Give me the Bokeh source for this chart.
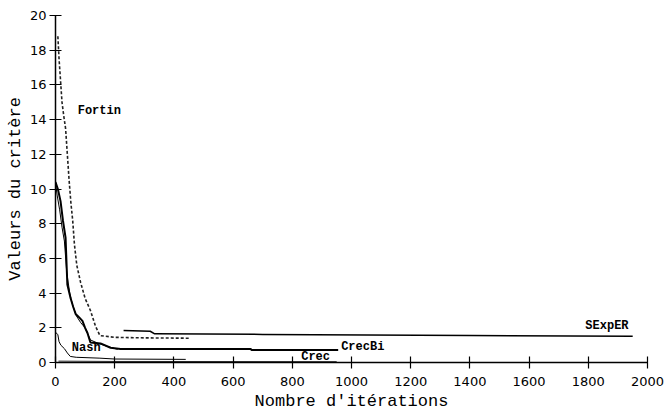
from bokeh.plotting import figure
from bokeh.models import Range1d, FixedTicker, Label
from bokeh.embed import file_html
from bokeh.resources import INLINE

# Data (iterations, criterion value)
fortin_x = [8, 12, 18, 22, 28, 34, 40, 46, 52, 58, 64, 72, 85, 100, 118, 135, 150, 200, 300, 450]
fortin_y = [18.8, 17.5, 16.0, 15.0, 14.2, 13.5, 12.0, 10.5, 9.2, 8.2, 6.8, 5.6, 4.6, 3.7, 3.0, 2.1, 1.55, 1.45, 1.42, 1.4]

crecbi_x = [0, 8, 17, 25, 34, 40, 51, 60, 68, 80, 91, 100, 108, 118, 135, 152, 186, 220, 660, 662, 955]
crecbi_y = [10.4, 10.0, 9.3, 8.2, 7.2, 4.5, 3.7, 3.2, 2.8, 2.6, 2.4, 2.0, 1.7, 1.15, 1.12, 1.1, 0.85, 0.78, 0.78, 0.72, 0.72]

crec_x = [0, 6, 14, 22, 30, 38, 48, 58, 70, 85, 100, 118, 145, 180, 210]
crec_y = [10.3, 9.6, 8.8, 7.8, 7.0, 5.2, 4.0, 3.3, 2.7, 2.3, 2.0, 1.3, 1.1, 0.9, 0.76]
crec_tail_x = [10, 200, 950]
crec_tail_y = [0.08, 0.06, 0.05]

nash_x = [0, 8, 12, 18, 30, 40, 50, 70, 150, 200, 440]
nash_y = [1.75, 1.6, 1.2, 1.0, 0.8, 0.55, 0.35, 0.3, 0.25, 0.2, 0.18]

sexper_x = [230, 320, 335, 700, 1400, 1950]
sexper_y = [1.84, 1.8, 1.65, 1.62, 1.55, 1.52]

x_ticks = list(range(0, 2001, 200))
y_ticks = list(range(0, 21, 2))

p = figure(width=670, height=415, output_backend="svg", toolbar_location=None,
           x_range=Range1d(0, 2000), y_range=Range1d(0, 20),
           min_border_left=55, min_border_right=23, min_border_top=15, min_border_bottom=53)
p.outline_line_color = None
p.xgrid.grid_line_color = None
p.ygrid.grid_line_color = None
p.background_fill_color = "white"

for ax in (p.xaxis[0], p.yaxis[0]):
    ax.major_tick_in = 6
    ax.major_tick_out = 6
    ax.minor_tick_line_color = None
    ax.axis_line_color = "black"
    ax.axis_line_width = 1.5
    ax.major_tick_line_color = "black"
    ax.major_tick_line_width = 1.2
    ax.major_label_text_font = "DejaVu Sans"
    ax.major_label_text_font_size = "13px"
    ax.major_label_text_color = "black"
    ax.axis_label_text_font = "Liberation Mono"
    ax.axis_label_text_font_style = "normal"
    ax.axis_label_text_color = "black"

p.xaxis.ticker = FixedTicker(ticks=x_ticks)
p.yaxis.ticker = FixedTicker(ticks=y_ticks)
p.xaxis.axis_label = "Nombre d'itérations"
p.yaxis.axis_label = "Valeurs du critère"
p.xaxis.axis_label_text_font_size = "17px"
p.yaxis.axis_label_text_font_size = "17px"
p.xaxis.major_label_standoff = 8
p.yaxis.major_label_standoff = 3
p.xaxis.axis_label_standoff = 3
p.yaxis.axis_label_standoff = 2

p.line(fortin_x, fortin_y, line_color="#222222", line_width=1.6, line_dash="3 2")
p.line(crecbi_x, crecbi_y, line_color="black", line_width=2)
p.line(crec_x, crec_y, line_color="black", line_width=1)
p.line(crec_tail_x, crec_tail_y, line_color="#333333", line_width=1)
p.line(nash_x, nash_y, line_color="black", line_width=1)
p.line(sexper_x, sexper_y, line_color="black", line_width=1.5)

labels = [("Fortin", 75, 14.5), ("Nash", 55, 0.85), ("CrecBi", 965, 0.9),
          ("Crec", 830, 0.32), ("SExpER", 1790, 2.1)]
for txt, lx, ly in labels:
    p.add_layout(Label(x=lx, y=ly, text=txt, text_font="Liberation Mono",
                       text_font_style="bold", text_font_size="12px",
                       text_color="black", text_baseline="middle"))

open("out.html", "w").write(file_html(p, INLINE))
